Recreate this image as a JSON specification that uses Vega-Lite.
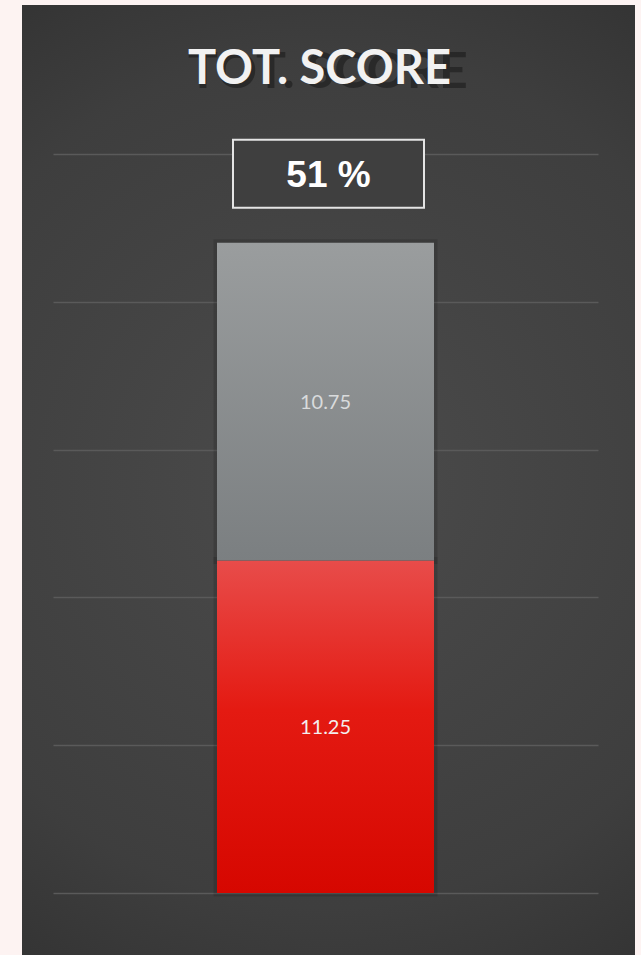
{
  "$schema": "https://vega.github.io/schema/vega-lite/v6.json",
  "width": 613,
  "height": 950,
  "autosize": {"type": "none"},
  "padding": {"left": 22, "top": 5, "right": 6, "bottom": 0},
  "background": "#fdf3f2",
  "config": {
    "view": {
      "stroke": null,
      "fill": {
        "gradient": "radial",
        "x1": 0.5, "y1": 0.5, "r1": 0,
        "x2": 0.5, "y2": 0.5, "r2": 0.75,
        "stops": [
          {"offset": 0, "color": "#4b4b4b"},
          {"offset": 0.6, "color": "#3e3e3e"},
          {"offset": 1, "color": "#2a2a2a"}
        ]
      }
    }
  },
  "title": {
    "text": "TOT. SCORE",
    "subtitle": "TOT. SCORE",
    "anchor": "start",
    "frame": "group",
    "orient": "top",
    "offset": -95,
    "dx": 166,
    "font": "Lato",
    "fontSize": 50,
    "fontWeight": "bold",
    "color": "rgba(12,12,12,0.42)",
    "subtitleFont": "Lato",
    "subtitleFontSize": 47,
    "subtitleFontWeight": "bold",
    "subtitleColor": "#f2f2f2",
    "subtitlePadding": -51
  },
  "data": {
    "values": [
      {"group": "TOT. SCORE", "part": "Scored", "value": 11.25, "order": 1},
      {"group": "TOT. SCORE", "part": "Remaining", "value": 10.75, "order": 2}
    ]
  },
  "transform": [
    {"stack": "value", "groupby": ["group"], "sort": [{"field": "order", "order": "ascending"}], "as": ["y0", "y1"]},
    {"joinaggregate": [{"op": "sum", "field": "value", "as": "total"}], "groupby": ["group"]},
    {"calculate": "(datum.y0 + datum.y1) / 2", "as": "mid"},
    {"calculate": "format(100 * datum.value / datum.total, '.0f') + ' %'", "as": "pct"}
  ],
  "encoding": {
    "x": {
      "field": "group",
      "type": "nominal",
      "axis": null,
      "scale": {"range": [31, 576], "paddingInner": 0, "paddingOuter": 0.7558}
    }
  },
  "layer": [
    {
      "mark": {"type": "bar", "fill": "#000000", "fillOpacity": 0, "stroke": "#000000", "strokeOpacity": 0.13, "strokeWidth": 7},
      "encoding": {
        "y": {
          "field": "y1",
          "type": "quantitative",
          "scale": {"domain": [-2.097, 30.04], "nice": false, "zero": false},
          "axis": {
            "values": [0, 5, 10, 15, 20, 25],
            "grid": true,
            "gridColor": "#5a5a5a",
            "gridWidth": 1.6,
            "labels": false,
            "ticks": false,
            "domain": false,
            "title": null
          }
        },
        "y2": {"field": "y0"}
      }
    },
    {
      "transform": [{"filter": "datum.part === 'Scored'"}],
      "mark": {
        "type": "bar",
        "fill": {
          "gradient": "linear", "x1": 0, "y1": 0, "x2": 0, "y2": 1,
          "stops": [
            {"offset": 0, "color": "#e84c4a"},
            {"offset": 0.45, "color": "#e41a12"},
            {"offset": 1, "color": "#d60700"}
          ]
        }
      },
      "encoding": {
        "y": {"field": "y1", "type": "quantitative"},
        "y2": {"field": "y0"}
      }
    },
    {
      "transform": [{"filter": "datum.part === 'Remaining'"}],
      "mark": {
        "type": "bar",
        "fill": {
          "gradient": "linear", "x1": 0, "y1": 0, "x2": 0, "y2": 1,
          "stops": [
            {"offset": 0, "color": "#9a9d9e"},
            {"offset": 1, "color": "#7b7f81"}
          ]
        }
      },
      "encoding": {
        "y": {"field": "y1", "type": "quantitative"},
        "y2": {"field": "y0"}
      }
    },
    {
      "mark": {"type": "text", "font": "Lato", "fontSize": 20, "baseline": "middle", "align": "center", "yOffset": 1.5},
      "encoding": {
        "y": {"field": "mid", "type": "quantitative"},
        "text": {"field": "value", "type": "quantitative", "format": ".2f"},
        "color": {
          "condition": {"test": "datum.part === 'Scored'", "value": "#f3eeee"},
          "value": "#d9dbdc"
        }
      }
    },
    {
      "transform": [{"filter": "datum.part === 'Scored'"}],
      "mark": {
        "type": "point",
        "shape": "M-1,-0.356L1,-0.356L1,0.356L-1,0.356Z",
        "size": 36481,
        "filled": true,
        "fill": "#3f3f3f",
        "stroke": "#e4e4e4",
        "strokeWidth": 2,
        "opacity": 1,
        "yOffset": -69,
        "xOffset": 3
      },
      "encoding": {
        "y": {"field": "total", "type": "quantitative"}
      }
    },
    {
      "transform": [{"filter": "datum.part === 'Scored'"}],
      "mark": {
        "type": "text",
        "font": "Liberation Sans",
        "fontSize": 37,
        "fontWeight": "bold",
        "baseline": "alphabetic",
        "align": "center",
        "color": "#ffffff",
        "yOffset": -56,
        "xOffset": 3
      },
      "encoding": {
        "y": {"field": "total", "type": "quantitative"},
        "text": {"field": "pct"}
      }
    }
  ]
}
